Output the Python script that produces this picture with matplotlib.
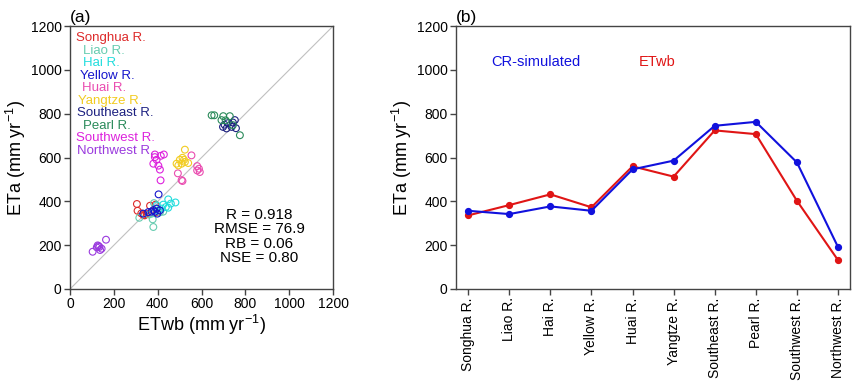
import matplotlib
matplotlib.use('Agg')
import matplotlib.pyplot as plt
import numpy as np

plt.rcParams['font.family'] = ['Liberation Sans', 'DejaVu Sans']
plt.rcParams['mathtext.default'] = 'regular'

basins = ['Songhua R.', 'Liao R.', 'Hai R.', 'Yellow R.', 'Huai R.', 'Yangtze R.',
          'Southeast R.', 'Pearl R.', 'Southwest R.', 'Northwest R.']
colors = ['#dd2a2a', '#66ccb0', '#22dddd', '#1515cc', '#ea4cb0', '#f2cc22',
          '#1c2080', '#2a8a5a', '#dd22dd', '#9a3ade']

# panel (a): ETwb (x) vs CR-simulated ETa (y) per basin
songhua_x = [305, 308, 325, 335, 350, 365, 390, 395, 340]
songhua_y = [388, 357, 345, 338, 342, 380, 385, 350, 336]
liao_x = [316, 377, 380, 383, 410, 372, 425, 360]
liao_y = [325, 318, 283, 392, 350, 344, 353, 340]
hai_x = [448, 481, 437, 448, 425, 403, 395, 418, 460]
hai_y = [409, 395, 374, 371, 385, 359, 382, 367, 390]
yellow_x = [404, 387, 372, 395, 357, 410, 398, 334, 380]
yellow_y = [432, 353, 353, 367, 351, 359, 344, 344, 360]
huai_x = [492, 513, 554, 580, 588, 592, 580, 509]
huai_y = [528, 493, 610, 561, 549, 534, 541, 497]
yangtze_x = [524, 486, 501, 513, 509, 494, 539, 524, 520]
yangtze_y = [636, 572, 590, 599, 572, 564, 575, 580, 590]
southeast_x = [698, 714, 743, 737, 752, 757, 720, 705]
southeast_y = [740, 733, 760, 740, 771, 734, 757, 750]
pearl_x = [646, 658, 699, 729, 691, 775, 743, 710]
pearl_y = [793, 793, 789, 789, 771, 702, 748, 770]
southwest_x = [387, 380, 395, 414, 428, 403, 410, 413, 387]
southwest_y = [614, 572, 590, 608, 614, 563, 545, 496, 602]
northwest_x = [103, 122, 130, 134, 144, 137, 164, 126]
northwest_y = [170, 190, 196, 192, 184, 178, 225, 199]

scatter_x = [songhua_x, liao_x, hai_x, yellow_x, huai_x, yangtze_x,
             southeast_x, pearl_x, southwest_x, northwest_x]
scatter_y = [songhua_y, liao_y, hai_y, yellow_y, huai_y, yangtze_y,
             southeast_y, pearl_y, southwest_y, northwest_y]

stats_text = 'R = 0.918\nRMSE = 76.9\nRB = 0.06\nNSE = 0.80'

# panel (b): basin means
cr_simulated = [357, 342, 377, 357, 546, 586, 745, 763, 578, 192]
etwb = [336, 383, 432, 373, 560, 513, 724, 707, 403, 132]

ticks = [0, 200, 400, 600, 800, 1000, 1200]
ylabel = 'ETa (mm yr$^{-1}$)'

fig = plt.figure(figsize=(8.65, 3.9), dpi=100)
ax1 = fig.add_axes([0.081, 0.259, 0.304, 0.674])
ax2 = fig.add_axes([0.527, 0.259, 0.456, 0.674])

for ax in (ax1, ax2):
    for sp in ax.spines.values():
        sp.set_color('#444444')
        sp.set_linewidth(1.0)
    ax.tick_params(direction='out', length=4, width=1, color='#444444',
                   labelsize=10, pad=2)
    ax.set_ylim(0, 1200)
    ax.set_yticks(ticks)
    ax.set_ylabel(ylabel, fontsize=13, labelpad=2)

# (a)
ax1.plot([0, 1200], [0, 1200], color='#c0c0c0', lw=0.8, zorder=1)
for xs, ys, c in zip(scatter_x, scatter_y, colors):
    ax1.scatter(xs, ys, s=24, facecolors='none', edgecolors=c, linewidths=0.8, zorder=2)
ax1.set_xlim(0, 1200)
ax1.set_xticks(ticks)
ax1.set_xlabel('ETwb (mm yr$^{-1}$)', fontsize=13, labelpad=1)

label_x = [0.022, 0.05, 0.05, 0.038, 0.045, 0.031, 0.026, 0.05, 0.022, 0.026]
for i, (name, c) in enumerate(zip(basins, colors)):
    ax1.text(label_x[i], 0.954 - i * 0.0475, name, color=c, fontsize=9.5,
             transform=ax1.transAxes, ha='left', va='center')
ax1.text(0.72, 0.2, stats_text, transform=ax1.transAxes, ha='center', va='center',
         fontsize=11, linespacing=1.05)
ax1.text(0.0, 1.005, '(a)', transform=ax1.transAxes, ha='left', va='bottom', fontsize=12.5)

# (b)
xpos = np.arange(len(basins))
ax2.plot(xpos, cr_simulated, color='#1111dd', lw=1.5, marker='o', ms=4.2, zorder=3)
ax2.plot(xpos, etwb, color='#e01515', lw=1.5, marker='o', ms=4.2, zorder=2)
ax2.set_xlim(-0.3, 9.3)
ax2.set_xticks(xpos)
ax2.set_xticklabels(basins, rotation=90, fontsize=10)
ax2.text(0.091, 0.863, 'CR-simulated', color='#1111dd', fontsize=10.5,
         transform=ax2.transAxes, ha='left', va='center')
ax2.text(0.464, 0.863, 'ETwb', color='#e01515', fontsize=10.5,
         transform=ax2.transAxes, ha='left', va='center')
ax2.text(0.0, 1.005, '(b)', transform=ax2.transAxes, ha='left', va='bottom', fontsize=12.5)

fig.savefig('out.png', dpi=100, facecolor='white')
